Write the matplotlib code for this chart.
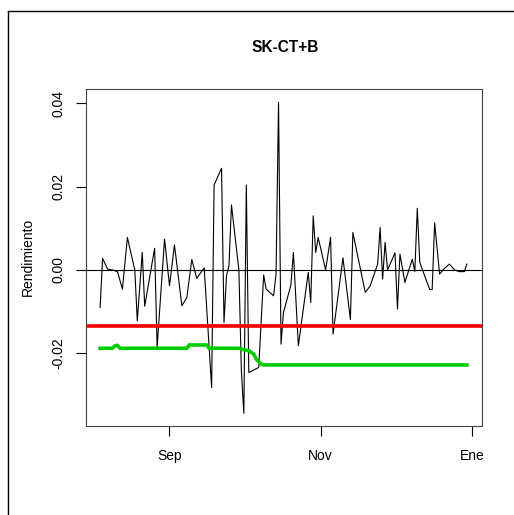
import numpy as np
import pandas as pd
import matplotlib
matplotlib.use("Agg")
import matplotlib.pyplot as plt
import matplotlib.dates as mdates
from matplotlib.lines import Line2D

plt.rcParams['font.family'] = ['Liberation Sans', 'DejaVu Sans']

# daily returns (black line)
ret_dates = ["2010-08-04", "2010-08-05", "2010-08-07", "2010-08-09", "2010-08-11",
             "2010-08-13", "2010-08-15", "2010-08-18", "2010-08-19", "2010-08-21",
             "2010-08-22", "2010-08-26", "2010-08-27", "2010-08-30", "2010-09-01",
             "2010-09-03", "2010-09-06", "2010-09-08", "2010-09-10", "2010-09-12",
             "2010-09-15", "2010-09-18", "2010-09-19", "2010-09-22", "2010-09-23",
             "2010-09-24", "2010-09-25", "2010-09-26", "2010-09-29", "2010-09-30",
             "2010-10-01", "2010-10-02", "2010-10-03", "2010-10-07", "2010-10-09",
             "2010-10-10", "2010-10-13", "2010-10-14", "2010-10-15", "2010-10-16",
             "2010-10-17", "2010-10-20", "2010-10-21", "2010-10-23", "2010-10-27",
             "2010-10-28", "2010-10-29", "2010-10-30", "2010-10-31", "2010-11-03",
             "2010-11-05", "2010-11-06", "2010-11-10", "2010-11-13", "2010-11-14",
             "2010-11-19", "2010-11-21", "2010-11-24", "2010-11-25", "2010-11-26",
             "2010-11-27", "2010-11-28", "2010-12-01", "2010-12-02", "2010-12-03",
             "2010-12-05", "2010-12-08", "2010-12-09", "2010-12-10", "2010-12-11",
             "2010-12-15", "2010-12-16", "2010-12-17", "2010-12-19", "2010-12-21",
             "2010-12-23", "2010-12-25", "2010-12-27", "2010-12-29", "2010-12-30"]
ret_vals = [-0.0090, 0.0028, 0.0002, 0.0000, -0.0004,
            -0.0046, 0.0078, 0.0000, -0.0122, 0.0042,
            -0.0087, 0.0052, -0.0186, 0.0074, -0.0038,
            0.0060, -0.0086, -0.0066, 0.0025, -0.0020,
            0.0005, -0.0282, 0.0204, 0.0244, -0.0126,
            -0.0014, 0.0010, 0.0156, 0.0000, -0.0242,
            -0.0344, 0.0204, -0.0246, -0.0234, -0.0012,
            -0.0046, -0.0062, -0.0010, 0.0402, -0.0178,
            -0.0102, -0.0036, 0.0042, -0.0182, -0.0006,
            -0.0078, 0.0130, 0.0042, 0.0078, 0.0000,
            0.0078, -0.0154, 0.0029, -0.0119, 0.0090,
            -0.0054, -0.0038, 0.0014, 0.0102, -0.0022,
            0.0066, 0.0000, 0.0041, -0.0094, 0.0038,
            -0.0030, 0.0026, -0.0004, 0.0148, 0.0018,
            -0.0047, -0.0047, 0.0113, -0.0010, 0.0004,
            0.0014, 0.0000, -0.0004, -0.0004, 0.0014]

# green series
var_dates = ["2010-08-04", "2010-08-09", "2010-08-10", "2010-08-11", "2010-08-12",
             "2010-09-08", "2010-09-09", "2010-09-16", "2010-09-17", "2010-09-29",
             "2010-09-30", "2010-10-03", "2010-10-05", "2010-10-06", "2010-10-08",
             "2010-10-09", "2010-12-30"]
var_vals = [-0.0188, -0.0188, -0.0182, -0.0181, -0.0188,
            -0.0188, -0.0180, -0.0180, -0.0188, -0.0188,
            -0.0190, -0.0194, -0.0202, -0.0214, -0.0226,
            -0.0228, -0.0228]

red_level = -0.01354

tick_dates = ["2010-09-01", "2010-11-01", "2011-01-01"]
tick_labels = ["Sep", "Nov", "Ene"]

fig = plt.figure(figsize=(5.14, 5.15), dpi=100)
ax = fig.add_axes([0.1673, 0.1734, 0.7699, 0.6538])

x_ret = pd.to_datetime(ret_dates)
x_var = pd.to_datetime(var_dates)

ax.plot(x_ret, ret_vals, color="black", lw=0.8)
ax.axhline(0, color="black", lw=0.8)
ax.axhline(red_level, color="#ff0000", lw=2.6)
ax.plot(x_var, var_vals, color="#00cc00", lw=2.6)

sep1 = mdates.date2num(pd.Timestamp("2010-09-01"))
ax.set_xlim(sep1 - 33.7, sep1 + 126.0)
ax.set_ylim(-0.03738, 0.04343)

ax.set_xticks(pd.to_datetime(tick_dates))
ax.set_xticklabels(tick_labels)
ax.set_yticks([-0.02, 0.0, 0.02, 0.04])
ax.set_yticklabels(["-0.02", "0.00", "0.02", "0.04"], rotation=90, va="center")
ax.tick_params(axis="both", length=7, width=0.8, labelsize=10)
ax.tick_params(axis="x", pad=10)
ax.tick_params(axis="y", pad=8)
for s in ax.spines.values():
    s.set_linewidth(0.8)
    s.set_color("#444444")

ax.set_ylabel("Rendimiento", fontsize=10)
ax.yaxis.set_label_coords(-0.129, 0.5)

fig.text(0.555, 1 - 47 / 515, "SK-CT+B", ha="center", va="center",
         fontsize=11.2, fontweight="bold")

# outer frame edges
fig.add_artist(Line2D([7.5 / 514, 7.5 / 514], [0, 1 - 10.5 / 515],
                      transform=fig.transFigure, color="black", lw=1))
fig.add_artist(Line2D([7.5 / 514, 1], [1 - 10.5 / 515, 1 - 10.5 / 515],
                      transform=fig.transFigure, color="black", lw=1))

fig.savefig("out.png", dpi=100)
